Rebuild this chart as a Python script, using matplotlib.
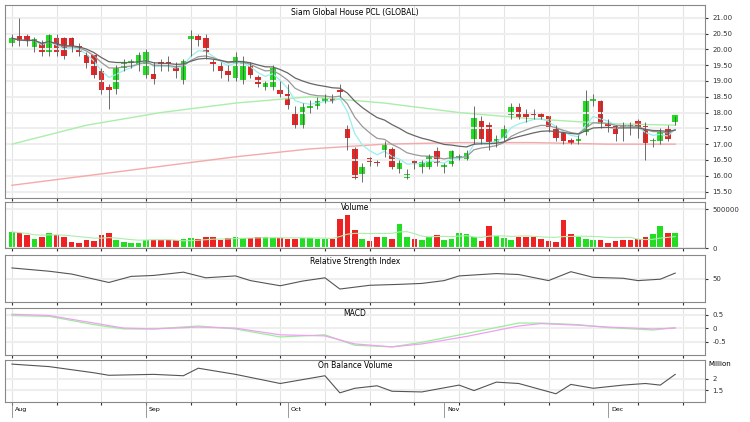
import numpy as np
import pandas as pd
import matplotlib.pyplot as plt

# candle data (open, close, high, low)
opens = [20.20, 20.40, 20.40, 20.07, 20.18, 19.90, 20.34, 20.34, 20.34, 20.07,
         19.79, 19.79, 19.30, 18.80, 18.75, 19.40, 19.57, 19.46, 19.19, 19.19,
         19.57, 19.57, 19.46, 19.00, 20.34, 20.40, 20.34, 19.57, 19.46, 19.30,
         19.10, 19.00, 19.46, 19.10, 18.80, 18.80, 18.70, 18.58, 17.98, 17.60,
         18.14, 18.20, 18.36, 18.47, 18.70, 17.48, 16.82, 16.05, 16.54, 16.43,
         16.82, 16.82, 16.21, 15.94, 16.49, 16.27, 16.27, 16.77, 16.27, 16.38,
         16.60, 16.54, 17.15, 17.70, 17.59, 17.04, 17.20, 17.92, 18.14, 17.98,
         17.98, 17.92, 17.87, 17.48, 17.32, 17.10, 17.10, 17.37, 18.36, 18.36,
         17.65, 17.54, 17.59, 17.59, 17.70, 17.54, 17.10, 17.10, 17.48, 17.70]
closes = [20.35, 20.25, 20.25, 20.30, 19.90, 20.45, 19.90, 19.79, 20.10, 19.90,
          19.57, 19.20, 18.70, 18.70, 19.40, 19.57, 19.60, 19.79, 19.90, 19.05,
          19.46, 19.46, 19.30, 19.60, 20.40, 20.30, 19.90, 19.46, 19.30, 19.20,
          19.75, 19.57, 19.20, 18.90, 18.90, 19.40, 18.60, 18.25, 17.60, 18.14,
          18.20, 18.36, 18.47, 18.36, 18.64, 17.20, 15.94, 16.27, 16.43, 16.40,
          17.00, 16.27, 16.38, 16.05, 16.40, 16.43, 16.60, 16.40, 16.32, 16.77,
          16.60, 16.70, 17.81, 17.15, 17.04, 17.15, 17.48, 18.14, 17.87, 17.85,
          17.92, 17.87, 17.54, 17.20, 17.10, 17.04, 17.15, 18.36, 18.40, 17.65,
          17.59, 17.32, 17.54, 17.54, 17.48, 17.04, 17.10, 17.37, 17.15, 17.90]
highs = [20.5, 21.0, 20.5, 20.4, 20.3, 20.5, 20.5, 20.4, 20.4, 20.2,
         19.9, 19.8, 19.4, 18.9, 19.5, 19.7, 19.7, 19.9, 20.0, 19.6,
         19.7, 19.8, 19.6, 19.7, 20.6, 20.5, 20.5, 19.7, 19.6, 19.5,
         19.9, 19.8, 19.6, 19.2, 19.0, 19.5, 19.0, 18.9, 18.2, 18.3,
         18.4, 18.5, 18.6, 18.6, 18.9, 17.6, 16.9, 16.4, 16.6, 16.5,
         17.1, 16.9, 16.5, 16.2, 16.5, 16.5, 16.7, 16.9, 16.4, 16.8,
         16.7, 16.8, 18.2, 17.9, 17.7, 17.3, 17.6, 18.3, 18.3, 18.1,
         18.1, 18.0, 17.9, 17.6, 17.4, 17.2, 17.3, 18.7, 18.6, 18.4,
         17.8, 17.6, 17.7, 17.7, 17.8, 17.7, 17.2, 17.5, 17.6, 17.9]
lows = [20.1, 20.1, 20.1, 19.9, 19.8, 19.8, 19.8, 19.7, 19.9, 19.8,
        19.4, 19.1, 18.6, 18.1, 18.6, 19.3, 19.4, 19.3, 19.1, 18.9,
        19.3, 19.3, 19.1, 18.9, 19.8, 20.1, 19.7, 19.3, 19.1, 19.0,
        19.0, 18.9, 19.1, 18.8, 18.7, 18.7, 18.5, 18.1, 17.5, 17.5,
        18.0, 18.1, 18.3, 18.3, 18.5, 16.8, 15.9, 15.8, 16.3, 16.3,
        16.6, 16.2, 16.1, 15.9, 16.2, 16.1, 16.2, 16.3, 16.1, 16.3,
        16.5, 16.5, 17.0, 17.0, 16.8, 16.9, 17.1, 17.8, 17.8, 17.7,
        17.8, 17.8, 17.4, 17.1, 17.0, 17.0, 17.0, 17.3, 18.2, 17.5,
        17.4, 17.1, 17.1, 17.3, 17.2, 16.5, 16.9, 17.0, 17.1, 17.6]
volume = [210, 190, 170, 120, 150, 190, 170, 140, 80, 70,
          110, 90, 170, 190, 100, 80, 70, 70, 100, 110,
          100, 100, 100, 120, 130, 120, 140, 140, 110, 130,
          150, 130, 130, 150, 140, 130, 130, 120, 120, 130,
          130, 120, 120, 120, 380, 430, 240, 120, 90, 150,
          140, 120, 310, 150, 120, 110, 140, 170, 110, 120,
          200, 180, 140, 90, 280, 160, 130, 110, 140, 150,
          140, 120, 90, 80, 370, 180, 150, 120, 110, 100,
          70, 90, 100, 110, 120, 140, 180, 280, 200, 200]
volume = [v * 1000 for v in volume]

# long moving averages, sampled every 10 candles
ma_idx = [0, 10, 20, 30, 40, 50, 60, 70, 80, 89]
ma50 = [17.0, 17.6, 18.0, 18.3, 18.5, 18.3, 18.0, 17.8, 17.65, 17.6]
ma200 = [15.7, 16.0, 16.3, 16.6, 16.85, 17.0, 17.05, 17.05, 17.0, 17.0]

# indicators
rsi_idx = [0, 5, 8, 13, 16, 19, 23, 26, 30, 32, 36, 39, 42, 44, 48, 52, 55, 58, 60, 65, 68, 72, 75, 78, 82, 84, 87, 89]
rsi_val = [73, 66, 60, 42, 55, 57, 64, 52, 56, 46, 35, 45, 52, 28, 36, 38, 40, 46, 56, 61, 59, 46, 65, 53, 51, 46, 49, 62]
macd_idx = [0, 5, 11, 15, 19, 25, 30, 36, 42, 46, 51, 55, 61, 68, 71, 76, 80, 86, 89]
macd_val = [0.47, 0.44, 0.13, -0.03, -0.03, 0.08, -0.03, -0.33, -0.25, -0.64, -0.70, -0.53, -0.20, 0.19, 0.19, 0.13, 0.02, -0.07, 0.02]
sig_val = [0.52, 0.47, 0.19, 0.00, -0.03, 0.04, 0.00, -0.25, -0.29, -0.59, -0.70, -0.59, -0.31, 0.08, 0.17, 0.11, 0.04, -0.03, 0.00]
obv_idx = [0, 5, 11, 13, 19, 23, 25, 30, 36, 42, 44, 46, 49, 51, 55, 60, 62, 65, 68, 71, 73, 75, 78, 82, 85, 87, 89]
obv_val = [2.65, 2.54, 2.27, 2.16, 2.20, 2.14, 2.47, 2.20, 1.80, 2.14, 1.39, 1.59, 1.70, 1.46, 1.43, 1.73, 1.49, 1.86, 1.80, 1.53, 1.35, 1.76, 1.59, 1.73, 1.80, 1.73, 2.20]

months = ["Aug", "Sep", "Oct", "Nov", "Dec"]
month_pos = [0, 18, 37, 58, 80]

o = np.array(opens)
c = np.array(closes)
n = len(o)
x = np.arange(n)
cs = pd.Series(c)
green = '#22dd22'
red = '#ee2222'
col = [green if cc >= oo else red for oo, cc in zip(o, c)]

fig = plt.figure(figsize=(7.5, 4.22), dpi=100)
L, W = 0.006, 0.934
ax1 = fig.add_axes([L, 0.531, W, 0.457])
ax2 = fig.add_axes([L, 0.412, W, 0.110], sharex=ax1)
ax3 = fig.add_axes([L, 0.284, W, 0.111], sharex=ax1)
ax4 = fig.add_axes([L, 0.159, W, 0.111], sharex=ax1)
ax5 = fig.add_axes([L, 0.048, W, 0.100], sharex=ax1)
axes = [ax1, ax2, ax3, ax4, ax5]

for a in axes:
    a.yaxis.tick_right()
    a.tick_params(labelsize=5, length=2, colors='#333333')
    a.set_xticks(np.arange(0, n + 5, 6))
    a.grid(True, axis='x', color='#e4e4e4', lw=0.8)
    a.grid(True, axis='y', color='#eeeeee', lw=1.5)
    for s in a.spines.values():
        s.set_color('#888888')
    a.tick_params(axis='x', labelbottom=False)

# price panel
ax1.plot(ma_idx, ma50, color='#aaeeaa', lw=1)
ax1.plot(ma_idx, ma200, color='#f4aaaa', lw=1)
ax1.plot(x, cs.ewm(span=5).mean(), color='#99eeee', lw=0.9)
ax1.plot(x, cs.ewm(span=10).mean(), color='#999999', lw=0.9)
ax1.plot(x, cs.ewm(span=20).mean(), color='#666666', lw=0.9)
ax1.vlines(x, lows, highs, color='#555555', lw=0.6)
ax1.bar(x, np.abs(c - o) + 0.02, bottom=np.minimum(o, c), width=0.75, color=col)
ax1.set_ylim(15.3, 21.4)
ax1.set_yticks(np.arange(15.5, 21.01, 0.5))
ax1.set_yticklabels([f"{v:.2f}" for v in np.arange(15.5, 21.01, 0.5)])
ax1.set_xlim(-1, n + 3)
ax1.text(0.5, 0.985, "Siam Global House PCL (GLOBAL)", transform=ax1.transAxes,
         ha='center', va='top', fontsize=5.5)

# volume
ax2.bar(x, volume, width=0.75, color=col)
ax2.plot(x, pd.Series(volume).rolling(10, min_periods=1).mean(), color='#aaeeaa', lw=0.8)
ax2.set_ylim(0, 600000)
ax2.set_yticks([0, 500000])
ax2.set_yticklabels(["0", "500000"])
ax2.text(0.5, 0.97, "Volume", transform=ax2.transAxes, ha='center', va='top', fontsize=5.5)

# RSI
ax3.plot(rsi_idx, rsi_val, color='#555555', lw=0.8)
ax3.set_ylim(0, 100)
ax3.set_yticks([50])
ax3.text(0.5, 0.97, "Relative Strength Index", transform=ax3.transAxes, ha='center', va='top', fontsize=5.5)

# MACD
ax4.plot(macd_idx, macd_val, color='#99ee99', lw=0.9)
ax4.plot(macd_idx, sig_val, color='#f0a0f0', lw=0.9)
ax4.set_ylim(-1.0, 0.75)
ax4.set_yticks([-0.5, 0, 0.5])
ax4.set_yticklabels(["-0.5", "0", "0.5"])
ax4.text(0.5, 0.97, "MACD", transform=ax4.transAxes, ha='center', va='top', fontsize=5.5)

# OBV
ax5.plot(obv_idx, obv_val, color='#555555', lw=0.8)
ax5.set_ylim(1.0, 2.85)
ax5.set_yticks([1.5, 2])
ax5.set_yticklabels(["1.5", "2"])
ax5.text(1.005, 0.97, "Million", transform=ax5.transAxes, ha='left', va='top', fontsize=5)
ax5.text(0.5, 0.97, "On Balance Volume", transform=ax5.transAxes, ha='center', va='top', fontsize=5.5)

for m, p in zip(months, month_pos):
    ax5.annotate(m, (p, 0), xycoords=('data', 'axes fraction'), xytext=(2, -4),
                 textcoords='offset points', fontsize=4.5, va='top')
    ax5.axvline(p, ymin=-0.35, ymax=0, color='#888888', lw=0.6, clip_on=False)

fig.savefig("out.png", dpi=100)
